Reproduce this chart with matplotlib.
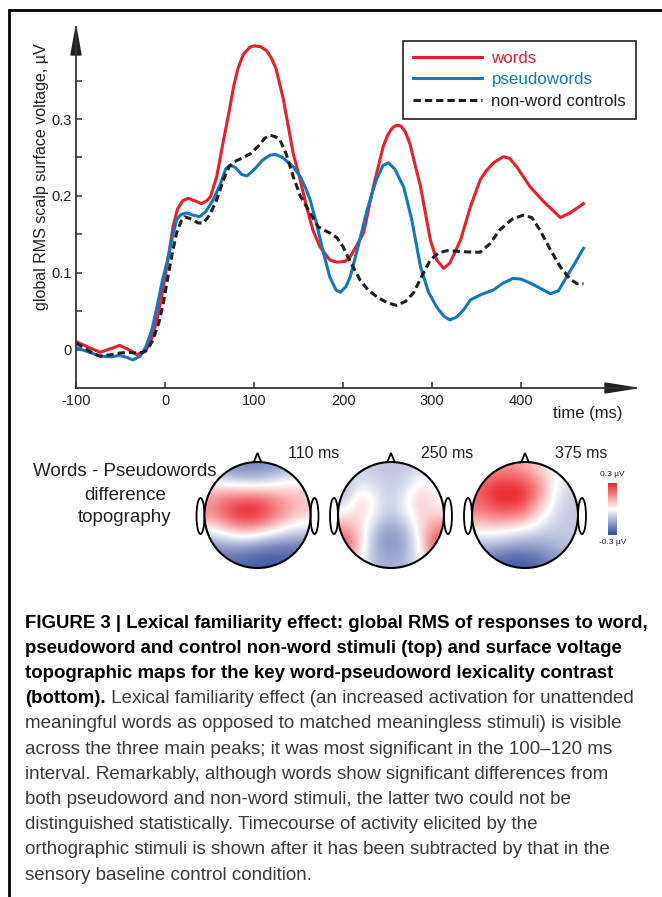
import numpy as np
import matplotlib
matplotlib.use('Agg')
import matplotlib.pyplot as plt
from matplotlib import font_manager
from matplotlib.patches import Ellipse, Polygon
from matplotlib.colors import LinearSegmentedColormap, Normalize
from matplotlib.colorbar import ColorbarBase

W, H = 662, 897
installed = {f.name for f in font_manager.fontManager.ttflist}
narrow = 'Liberation Sans Narrow' if 'Liberation Sans Narrow' in installed else 'Liberation Sans'
plt.rcParams['font.family'] = ['Liberation Sans', 'DejaVu Sans']
plt.rcParams['axes.unicode_minus'] = False

# ---- global RMS timecourses (ms, uV) ----
words_t = [-100, -85, -73, -60, -51, -40, -32, -22, -15, -9, -4, 0, 5, 9, 14, 20, 26, 33, 41, 47,
           51, 58, 65, 73, 77, 82, 88, 95, 100, 107, 114, 120, 125, 133, 144, 152, 159, 166, 174,
           185, 193, 202, 208, 215, 223, 234, 245, 250, 255, 260, 265, 270, 275, 287, 298, 305,
           313, 320, 332, 343, 354, 361, 370, 380, 387, 395, 410, 425, 444, 455, 470]
words_v = [0.011, 0.003, -0.003, 0.002, 0.006, 0.0, -0.006, -0.002, 0.015, 0.04, 0.068, 0.095,
           0.13, 0.16, 0.183, 0.194, 0.197, 0.194, 0.19, 0.194, 0.199, 0.225, 0.268, 0.316, 0.342,
           0.366, 0.384, 0.393, 0.395, 0.394, 0.389, 0.378, 0.364, 0.325, 0.255, 0.22, 0.186,
           0.156, 0.134, 0.117, 0.114, 0.115, 0.121, 0.135, 0.152, 0.212, 0.264, 0.279, 0.288,
           0.292, 0.291, 0.283, 0.268, 0.212, 0.143, 0.117, 0.106, 0.113, 0.143, 0.186, 0.221,
           0.233, 0.244, 0.251, 0.249, 0.238, 0.212, 0.193, 0.172, 0.178, 0.19]

pseudo_t = [-100, -85, -73, -60, -51, -42, -36, -28, -22, -15, -9, -3, 2, 8, 13, 18, 24, 32, 39,
            46, 54, 62, 68, 73, 79, 86, 92, 98, 103, 110, 118, 124, 132, 140, 144, 152, 158, 163,
            170, 178, 185, 192, 197, 203, 208, 217, 227, 237, 245, 251, 258, 268, 277, 287, 296,
            305, 313, 320, 328, 336, 343, 355, 369, 380, 391, 400, 410, 420, 433, 442, 451, 460,
            470]
pseudo_v = [0.003, -0.003, -0.008, -0.009, -0.007, -0.01, -0.013, -0.008, 0.003, 0.025, 0.056,
            0.09, 0.113, 0.145, 0.169, 0.176, 0.178, 0.175, 0.173, 0.18, 0.195, 0.215, 0.235,
            0.24, 0.237, 0.228, 0.226, 0.232, 0.238, 0.247, 0.253, 0.254, 0.25, 0.242, 0.238,
            0.225, 0.21, 0.195, 0.165, 0.126, 0.095, 0.078, 0.075, 0.082, 0.095, 0.135, 0.182,
            0.22, 0.24, 0.243, 0.235, 0.212, 0.17, 0.108, 0.075, 0.056, 0.044, 0.039, 0.043,
            0.053, 0.065, 0.072, 0.078, 0.087, 0.093, 0.092, 0.087, 0.081, 0.073, 0.077, 0.095,
            0.112, 0.132]

control_t = [-100, -90, -80, -73, -60, -51, -40, -32, -25, -20, -14, -7, -2, 2, 8, 13, 18, 22,
             30, 37, 43, 50, 58, 66, 72, 77, 86, 96, 105, 112, 118, 124, 129, 136, 144, 152, 159,
             166, 172, 178, 185, 193, 200, 208, 219, 228, 238, 250, 260, 270, 279, 289, 298, 307,
             317, 330, 345, 354, 365, 376, 390, 402, 412, 421, 432, 444, 455, 463, 470]
control_v = [0.009, 0.002, -0.005, -0.008, -0.006, -0.004, -0.003, -0.004, -0.003, 0.0, 0.012,
             0.035, 0.06, 0.087, 0.125, 0.152, 0.167, 0.173, 0.17, 0.165, 0.165, 0.175, 0.195,
             0.222, 0.238, 0.244, 0.249, 0.255, 0.265, 0.275, 0.279, 0.277, 0.273, 0.255, 0.225,
             0.2, 0.186, 0.172, 0.16, 0.156, 0.152, 0.146, 0.134, 0.115, 0.091, 0.078, 0.069,
             0.061, 0.058, 0.063, 0.074, 0.097, 0.117, 0.126, 0.129, 0.128, 0.127, 0.127, 0.138,
             0.156, 0.17, 0.175, 0.172, 0.156, 0.132, 0.108, 0.092, 0.086, 0.086]

series_labels = ['words', 'pseudowords', 'non-word controls']
series_colors = ['#e8202a', '#1277bd', '#231f20']
x_ticks = [-100, 0, 100, 200, 300, 400]
y_ticks = [0, 0.1, 0.2, 0.3]
y_minor = [0.05, 0.15, 0.25, 0.35]

# ---- difference topographies (words - pseudowords), front row first, normalised to 0.3 uV ----
topo_times = ['110 ms', '250 ms', '375 ms']
topo_110 = [[-0.5, -0.6, -0.65, -0.65, -0.55, -0.45, -0.35],
            [0.1, 0.0, -0.1, -0.1, 0.0, 0.1, 0.1],
            [0.5, 0.7, 0.8, 0.8, 0.6, 0.4, 0.3],
            [0.5, 0.8, 1.0, 0.95, 0.7, 0.4, 0.2],
            [0.0, 0.2, 0.4, 0.3, 0.1, -0.1, -0.2],
            [-0.6, -0.5, -0.5, -0.6, -0.7, -0.7, -0.7],
            [-0.8, -0.8, -0.85, -0.9, -0.9, -0.9, -0.9]]
topo_250 = [[-0.2, -0.25, -0.3, -0.3, -0.3, -0.2, -0.1],
            [-0.4, -0.1, -0.2, -0.3, -0.2, 0.1, 0.0],
            [-0.3, 0.25, -0.05, -0.3, 0.0, 0.3, 0.0],
            [0.1, 0.2, -0.1, -0.35, -0.1, 0.2, 0.2],
            [0.5, 0.2, -0.4, -0.55, -0.4, 0.2, 0.6],
            [0.9, 0.2, -0.5, -0.6, -0.5, 0.1, 0.9],
            [0.5, 0.0, -0.4, -0.45, -0.4, 0.0, 0.5]]
topo_375 = [[0.4, 0.5, 0.5, 0.4, 0.2, 0.0, -0.1],
            [0.7, 0.9, 0.95, 0.85, 0.5, 0.0, -0.2],
            [0.7, 0.95, 1.0, 0.9, 0.4, -0.1, -0.3],
            [0.5, 0.6, 0.65, 0.5, 0.1, -0.2, -0.3],
            [0.1, 0.1, 0.0, -0.1, -0.2, -0.3, -0.3],
            [-0.4, -0.4, -0.5, -0.5, -0.5, -0.4, -0.3],
            [-0.7, -0.8, -0.9, -0.9, -0.8, -0.6, -0.5]]
topo_maps = [topo_110, topo_250, topo_375]

caption_bold = ['FIGURE 3 | Lexical familiarity effect: global RMS of responses to word,',
                'pseudoword and control non-word stimuli (top) and surface voltage',
                'topographic maps for the key word-pseudoword lexicality contrast',
                '(bottom).']
caption_rest = [' Lexical familiarity effect (an increased activation for unattended',
                'meaningful words as opposed to matched meaningless stimuli) is visible',
                'across the three main peaks; it was most significant in the 100\u2013120 ms',
                'interval. Remarkably, although words show significant differences from',
                'both pseudoword and non-word stimuli, the latter two could not be',
                'distinguished statistically. Timecourse of activity elicited by the',
                'orthographic stimuli is shown after it has been subtracted by that in the',
                'sensory baseline control condition.']

dark = '#231f20'
fig = plt.figure(figsize=(W / 100, H / 100), dpi=100)
fig.patch.set_facecolor('white')

# overlay in pixel units for frame, heads and caption
ov = fig.add_axes([0, 0, 1, 1])
ov.set_xlim(0, W)
ov.set_ylim(H, 0)
ov.axis('off')
ov.plot([8, W], [10, 10], color='black', lw=2.0, solid_capstyle='butt')
ov.plot([9, 9], [9, H], color='black', lw=2.0, solid_capstyle='butt')

# ---- main timecourse axes ----
ax = fig.add_axes([76 / W, 1 - 388 / H, (636 - 76) / W, (388 - 27) / H])
ax.patch.set_alpha(0)
for t, v, lab, col in zip([words_t, pseudo_t, control_t], [words_v, pseudo_v, control_v],
                          series_labels, series_colors):
    ls = (0, (2.4, 1.3)) if lab == 'non-word controls' else '-'
    ax.plot(t, v, color=col, lw=2.2, ls=ls, label=lab, solid_joinstyle='round')

ax.set_xlim(-100, 529)
ax.set_ylim(-0.0494, 0.4195)
for s in ['top', 'right']:
    ax.spines[s].set_visible(False)
for s in ['left', 'bottom']:
    ax.spines[s].set_color('#333333')
    ax.spines[s].set_linewidth(1.3)
ax.set_xticks(x_ticks)
ax.set_yticks(y_ticks)
ax.set_yticklabels(['0', '0.1', '0.2', '0.3'])
ax.set_yticks(y_minor, minor=True)
ax.tick_params(axis='both', which='both', direction='in', length=4, width=1.1,
               color='#333333', labelsize=10.5, labelcolor=dark)
ax.tick_params(axis='x', pad=4)
ax.tick_params(axis='y', pad=3)

# arrow heads
ax.add_patch(Polygon([[0, 1], [-5 / 560, (388 - 55) / 361], [5 / 560, (388 - 55) / 361]],
                     closed=True, transform=ax.transAxes, clip_on=False, color=dark))
ax.add_patch(Polygon([[1, 0], [(605 - 76) / 560, 5 / 361], [(605 - 76) / 560, -5 / 361]],
                     closed=True, transform=ax.transAxes, clip_on=False, color=dark))

leg = ax.legend(loc='upper right', bbox_to_anchor=(1.0, (388 - 41) / 361), borderaxespad=0,
                fontsize=12.2, handlelength=4.1, handletextpad=0.55, labelspacing=0.38,
                borderpad=0.58, fancybox=False, framealpha=1, edgecolor=dark)
leg.get_frame().set_linewidth(1.2)
for txt, col in zip(leg.get_texts(), series_colors):
    txt.set_color(col)

fig.text(42 / W, 1 - 177 / H, 'global RMS scalp surface voltage, \u00b5V', rotation=90,
         ha='center', va='center', fontsize=11.5, color=dark)
fig.text(588 / W, 1 - 413 / H, 'time (ms)', ha='center', va='center', fontsize=12, color=dark)

# ---- topographies ----
cmap = LinearSegmentedColormap.from_list('bwr_topo', ['#34499c', '#ffffff', '#ec2227'])
for i, l in enumerate(['Words - Pseudowords', 'difference', 'topography']):
    ov.text(125, 472 + i * 23, l, ha='center', va='center', fontsize=13.5, color=dark)

head_cx = [257.5, 391, 525]
cy, r = 515, 53
for cx, grid, lab in zip(head_cx, topo_maps, topo_times):
    for side in (-1, 1):
        ov.add_patch(Ellipse((cx + side * 57, cy + 1), 8, 36, fc='white', ec='black', lw=1.3, zorder=1))
    ov.add_patch(Polygon([[cx, 453], [cx - 4.5, 464], [cx + 4.5, 464]], closed=True,
                         fc='white', ec='black', lw=1.3, zorder=1))
    im = ov.imshow(np.array(grid) * 0.3, cmap=cmap, vmin=-0.3, vmax=0.3, interpolation='bicubic',
                   extent=(cx - r, cx + r, cy + r, cy - r), origin='upper', zorder=2, aspect='auto')
    clip = Ellipse((cx, cy), 2 * r, 2 * r, transform=ov.transData)
    im.set_clip_path(clip)
    ov.add_patch(Ellipse((cx, cy), 2 * r, 2 * r, fc='none', ec='black', lw=1.5, zorder=3))
    ov.text(cx + 56, 453, lab, ha='center', va='center', fontsize=11.5, color=dark)
ov.set_xlim(0, W)
ov.set_ylim(H, 0)

cax = fig.add_axes([608 / W, 1 - 535 / H, 9 / W, 52 / H])
cb = ColorbarBase(cax, cmap=cmap, norm=Normalize(-0.3, 0.3))
cb.outline.set_visible(False)
cb.set_ticks([])
ov.text(612.5, 475, '0.3 \u00b5V', ha='center', va='center', fontsize=6, color=dark)
ov.text(612.5, 542, '-0.3 \u00b5V', ha='center', va='center', fontsize=6, color=dark)

# ---- caption ----
renderer = fig.canvas.get_renderer()
x0, y0, dy = 25, 623, 25.2
probe = ov.text(x0, y0, caption_bold[0], fontsize=10, weight='bold', family=narrow,
                va='center', color='black')
bsize = 10 * 623 / probe.get_window_extent(renderer).width
probe.remove()
probe = ov.text(x0, y0, caption_rest[1], fontsize=10, family=narrow, va='center')
rsize = 10 * 601 / probe.get_window_extent(renderer).width
probe.remove()

line = 0
for txt in caption_bold:
    t = ov.text(x0, y0 + line * dy, txt, fontsize=bsize, weight='bold', family=narrow,
                va='center', color='black')
    line += 1
end_x = x0 + t.get_window_extent(renderer).width
line -= 1
for j, txt in enumerate(caption_rest):
    ov.text(end_x if j == 0 else x0, y0 + line * dy, txt, fontsize=rsize, family=narrow,
            va='center', color='#3a3a3a')
    line += 1

fig.savefig('out.png', dpi=100)
